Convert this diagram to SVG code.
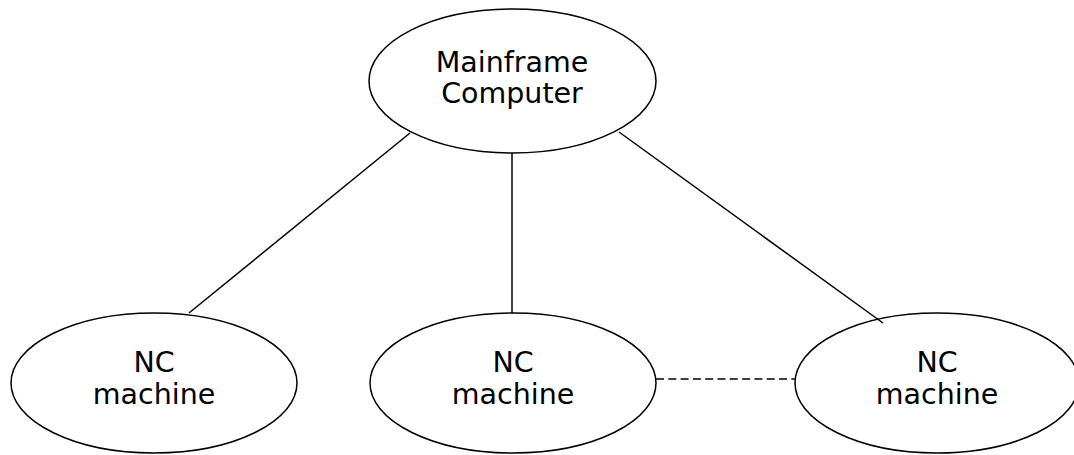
<svg xmlns="http://www.w3.org/2000/svg" width="1074" height="455" viewBox="0 0 1074 455">
<style>
.node ellipse{fill:#fff;stroke:#000;stroke-width:1.5}
.node text{font-family:"DejaVu Sans",Verdana,sans-serif;font-size:28.5px;fill:#000;text-anchor:middle}
.conn line{stroke:#000;stroke-width:1.5}
.dash{stroke-dasharray:8 4.3}
</style>
<rect width="1074" height="455" fill="#fff"/>
<g id="mainframe" class="node">
<ellipse cx="512.5" cy="81" rx="143.5" ry="72"/>
<text x="512" y="72">Mainframe</text>
<text x="512" y="103">Computer</text>
</g>
<g id="nc1" class="node">
<ellipse cx="154" cy="383" rx="143" ry="70"/>
<text x="154" y="372">NC</text>
<text x="154" y="404">machine</text>
</g>
<g id="nc2" class="node">
<ellipse cx="513" cy="383" rx="143" ry="70"/>
<text x="513" y="372">NC</text>
<text x="513" y="404">machine</text>
</g>
<g id="nc3" class="node">
<ellipse cx="937" cy="383" rx="142" ry="70"/>
<text x="937" y="372">NC</text>
<text x="937" y="404">machine</text>
</g>
<g id="connectors" class="conn">
<line x1="410" y1="133" x2="189" y2="313"/>
<line x1="512" y1="153" x2="512" y2="313"/>
<line x1="619" y1="132" x2="883" y2="323"/>
<line class="dash" x1="656" y1="379" x2="795" y2="379"/>
</g>
</svg>
